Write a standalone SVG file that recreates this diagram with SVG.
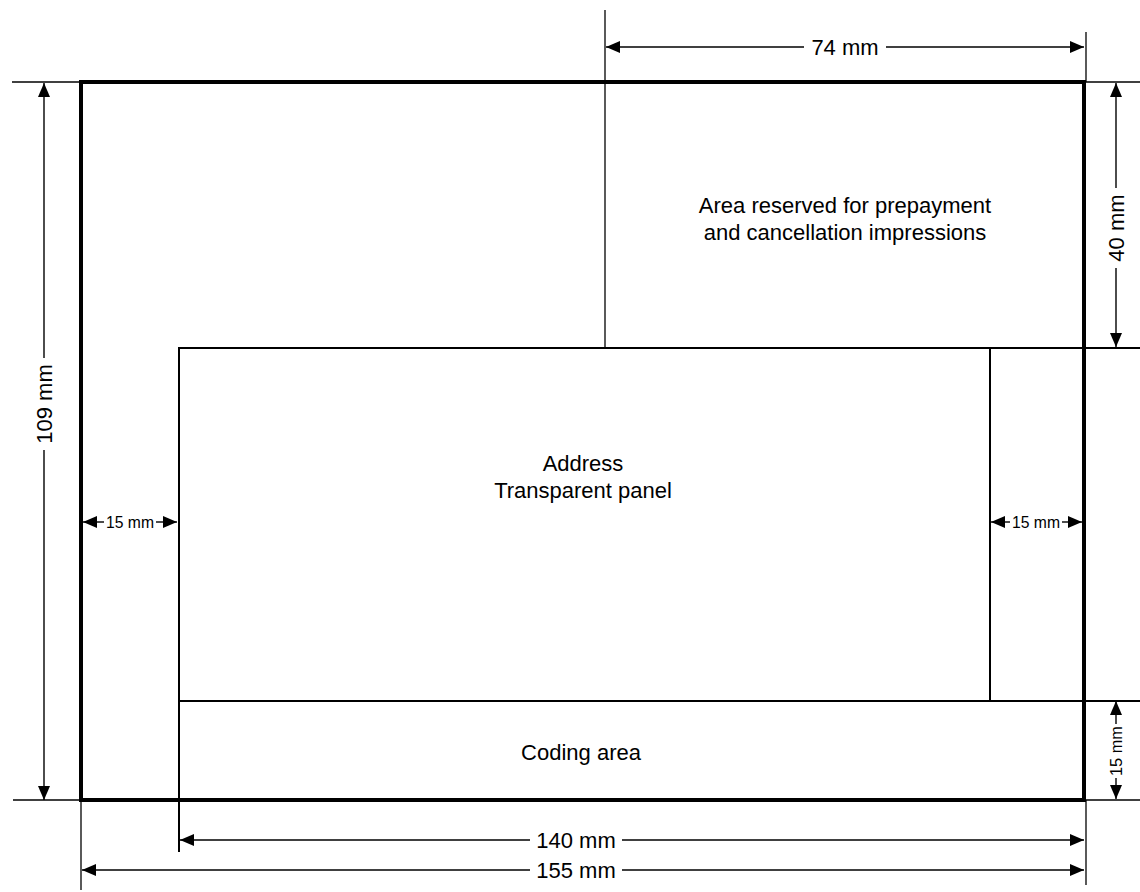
<svg xmlns="http://www.w3.org/2000/svg" width="1140" height="892" viewBox="0 0 1140 892">
<style>
.thick{stroke:#000;stroke-width:4;fill:none}
.mid{stroke:#000;stroke-width:2;fill:none}
.thin{stroke:#000;stroke-width:1.3;fill:none}
.dim{stroke:#000;stroke-width:1.4;fill:none}
.a{marker-end:url(#ah)}
text{font-family:"Liberation Sans",Arial,sans-serif;fill:#000}
.lbl{font-size:22px;text-anchor:middle}
.dt{font-size:22px;text-anchor:middle;dominant-baseline:central}
.sm{font-size:17px;text-anchor:middle;dominant-baseline:central}
</style>
<defs>
<marker id="ah" viewBox="0 0 14 12" refX="14" refY="6" markerWidth="14" markerHeight="12" markerUnits="userSpaceOnUse" orient="auto">
<path d="M0,0 L14,6 L0,12 Z" fill="#000"/>
</marker>
</defs>
<rect width="1140" height="892" fill="#fff"/>
<g id="frame">
<line class="thin" x1="12" y1="82" x2="1140" y2="82"/>
<line class="thin" x1="13" y1="800" x2="1140" y2="800"/>
<line class="thick" x1="80" y1="82" x2="1085" y2="82"/>
<line class="thick" x1="80" y1="800" x2="1085" y2="800"/>
<line class="thick" x1="81" y1="80" x2="81" y2="802"/>
<line class="thick" x1="1084" y1="80" x2="1084" y2="802"/>
<line class="thin" x1="81" y1="800" x2="81" y2="890"/>
<line class="thin" x1="1086" y1="32" x2="1086" y2="82"/>
<line class="thin" x1="1086" y1="800" x2="1086" y2="885"/>
</g>
<g id="prepayment-area">
<line class="thin" x1="605" y1="10" x2="605" y2="348"/>
<text class="lbl" x="845" y="213">Area reserved for prepayment</text>
<text class="lbl" x="845" y="240">and cancellation impressions</text>
</g>
<g id="address-panel">
<line class="mid" x1="178" y1="348" x2="1140" y2="348"/>
<line class="mid" x1="178" y1="701" x2="1140" y2="701"/>
<line class="mid" x1="179" y1="348" x2="179" y2="852"/>
<line class="mid" x1="990" y1="348" x2="990" y2="701"/>
<text class="lbl" x="583" y="471">Address</text>
<text class="lbl" x="583" y="498">Transparent panel</text>
</g>
<g id="coding-area">
<text class="lbl" x="581" y="760">Coding area</text>
</g>
<g id="connectors">
<line class="dim a" x1="44" y1="358" x2="44" y2="83"/>
<line class="dim a" x1="44" y1="450" x2="44" y2="800"/>
<line class="dim a" x1="804" y1="47" x2="606" y2="47"/>
<line class="dim a" x1="886" y1="47" x2="1084" y2="47"/>
<line class="dim a" x1="1116" y1="188" x2="1116" y2="83"/>
<line class="dim a" x1="1116" y1="268" x2="1116" y2="347"/>
<line class="dim a" x1="1116" y1="724" x2="1116" y2="701"/>
<line class="dim a" x1="1116" y1="778" x2="1116" y2="799"/>
<line class="dim a" x1="104" y1="522" x2="83" y2="522"/>
<line class="dim a" x1="156" y1="522" x2="177" y2="522"/>
<line class="dim a" x1="1010" y1="522" x2="991" y2="522"/>
<line class="dim a" x1="1062" y1="522" x2="1082" y2="522"/>
<line class="dim a" x1="530" y1="840" x2="180" y2="840"/>
<line class="dim a" x1="622" y1="840" x2="1084" y2="840"/>
<line class="dim a" x1="530" y1="870" x2="82" y2="870"/>
<line class="dim a" x1="622" y1="870" x2="1084" y2="870"/>
</g>
<g id="labels">
<text class="dt" x="44" y="404" transform="rotate(-90 44 404)">109 mm</text>
<text class="dt" x="845" y="47">74 mm</text>
<text class="dt" x="1116" y="228" transform="rotate(-90 1116 228)">40 mm</text>
<text class="sm" x="1116" y="751" transform="rotate(-90 1116 751)" textLength="50" lengthAdjust="spacingAndGlyphs">15 mm</text>
<text class="sm" x="130" y="522" textLength="48" lengthAdjust="spacingAndGlyphs">15 mm</text>
<text class="sm" x="1036" y="522" textLength="48" lengthAdjust="spacingAndGlyphs">15 mm</text>
<text class="dt" x="576" y="840">140 mm</text>
<text class="dt" x="576" y="870">155 mm</text>
</g>
</svg>
